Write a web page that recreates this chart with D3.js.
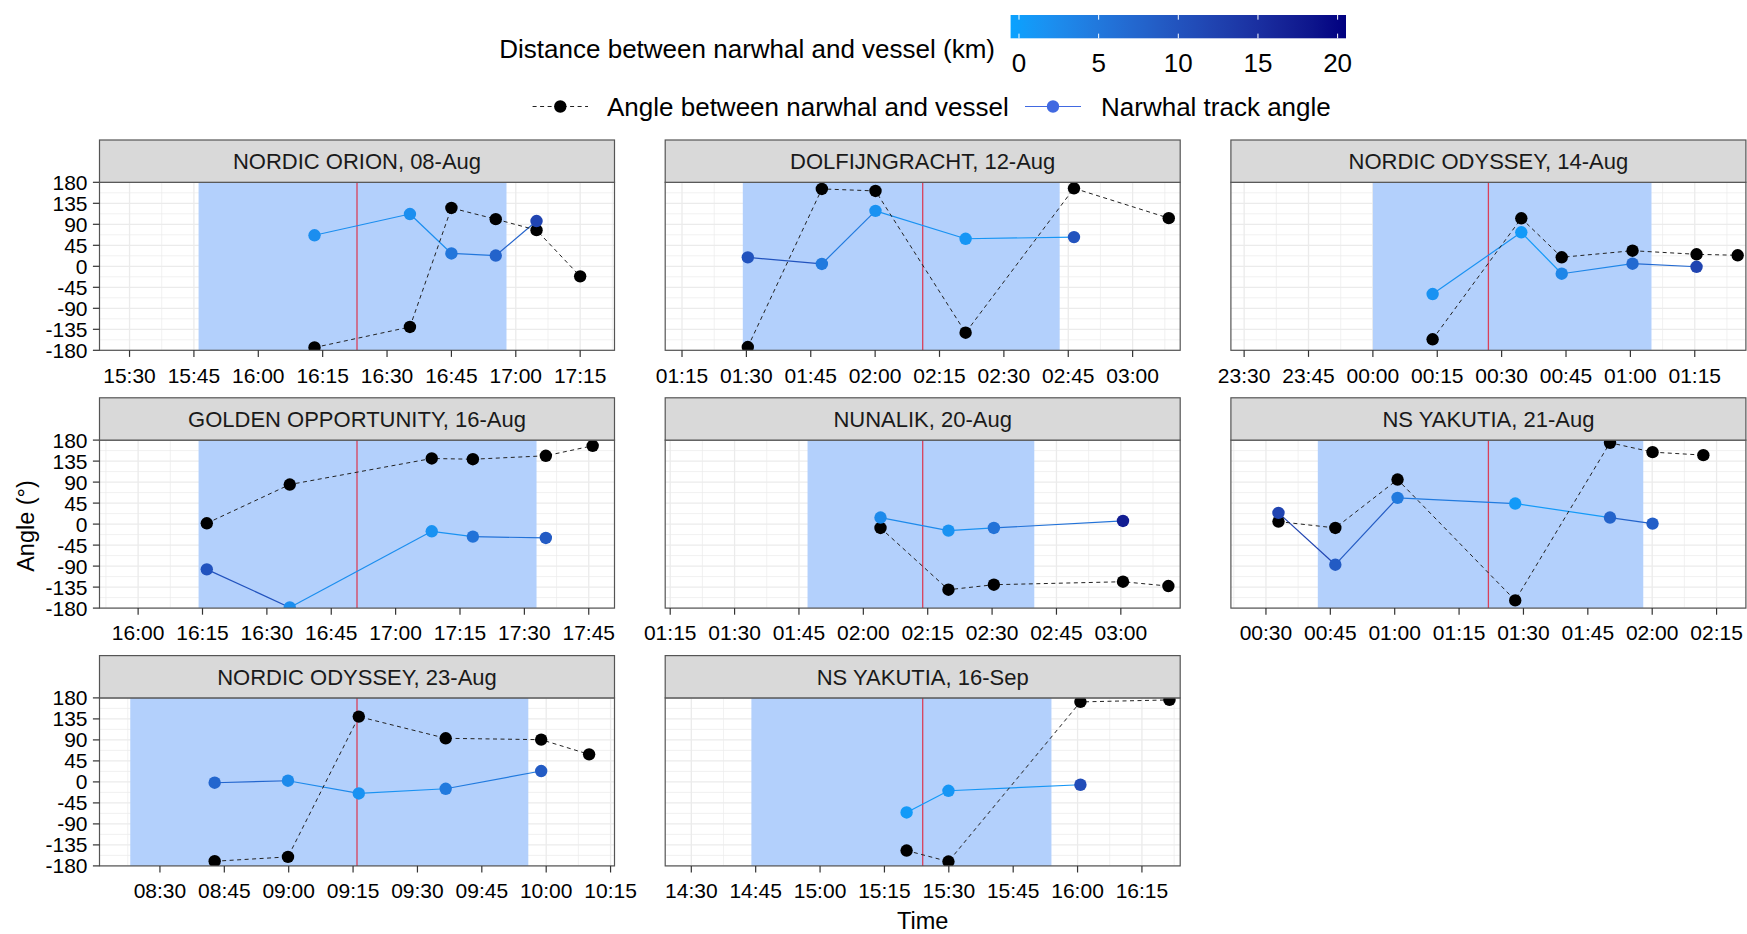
<!DOCTYPE html>
<html>
<head>
<meta charset="utf-8">
<script src="https://cdn.jsdelivr.net/npm/d3@7"></script>
<style>
  body { margin: 0; background: #fff; }
  svg { display: block; }
  text { font-family: "Liberation Sans", Arial, Helvetica, sans-serif; }
</style>
</head>
<body>
<svg id="chart" width="1747" height="934"></svg>
<script>
// ---- data ---------------------------------------------------------------
const panelTitles = [
  "NORDIC ORION, 08-Aug", "DOLFIJNGRACHT, 12-Aug", "NORDIC ODYSSEY, 14-Aug",
  "GOLDEN OPPORTUNITY, 16-Aug", "NUNALIK, 20-Aug", "NS YAKUTIA, 21-Aug",
  "NORDIC ODYSSEY, 23-Aug", "NS YAKUTIA, 16-Sep"
];
const panelDates = [
  "2019-08-08", "2019-08-12", "2019-08-14", "2019-08-16",
  "2019-08-20", "2019-08-21", "2019-08-23", "2019-09-16"
];
// time the vessel passed closest (red line)
const passTime = ["16:23:00", "02:11:05", "00:26:55", "16:51:00", "02:13:50", "01:21:50", "09:15:55", "15:23:55"];
// window during which the vessel was within range (shaded band)
const bandStart = ["15:46:05", "01:29:10", "00:00:00", "16:14:05", "01:47:00", "00:42:05", "08:23:05", "14:44:00"];
const bandEnd   = ["16:57:50", "02:43:00", "01:04:55", "17:32:50", "02:39:50", "01:57:55", "09:55:50", "15:53:55"];

// position fixes per panel
const fixTimes = [
  ["16:13:06", "16:35:20", "16:45:00", "16:55:20", "17:04:50", "17:15:00"],
  ["01:30:20", "01:47:35", "02:00:05", "02:21:05", "02:46:20", "03:08:25"],
  ["00:13:55", "00:34:35", "00:44:00", "01:00:30", "01:15:25", "01:25:00"],
  ["16:16:00", "16:35:20", "17:08:25", "17:18:00", "17:35:00", "17:45:55"],
  ["02:04:00", "02:19:50", "02:30:25", "03:00:30", "03:11:05"],
  ["00:32:55", "00:46:10", "01:00:40", "01:28:05", "01:50:10", "02:00:05", "02:11:55"],
  ["08:42:45", "08:59:50", "09:16:20", "09:36:35", "09:58:50", "10:10:00"],
  ["15:20:10", "15:29:55", "16:00:40", "16:21:25"]
];
// angle between narwhal and vessel (degrees)
const vesselAngle = [
  [-174, -130, 125, 101, 77.5, -21.5],
  [-173, 165.8, 161.5, -142.3, 167.2, 103.2],
  [-156.4, 102.9, 19.3, 33.4, 25.7, 23.6],
  [1.8, 84.8, 140.6, 139, 146.4, 167.8],
  [-8.2, -140.6, -129.9, -123.5, -132.8],
  [5.4, -8.2, 95.5, -163.5, 174.3, 154.2, 147.8],
  [-170, -160.7, 139.9, 93.4, 90.5, 59],
  [-147.1, -170.7, 171.4, 175.7]
];
// narwhal track angle (degrees)
const trackAngle = [
  [66.5, 112, 27.5, 23, 97, null],
  [19.2, 5, 118.8, 59, 62.6, null],
  [-59.4, 72.9, -15.9, 5.6, -1, null],
  [-97, -178.6, -15.4, -26.8, -29.7, null],
  [14, -14, -8.2, 6.8, null],
  [24, -87, 56.2, 44, 14, 1.1, null],
  [-1.8, 2.5, -24.7, -14.7, 23.3, null],
  [-65.5, -19, -6.1, null]
];
// distance between narwhal and vessel (km)
const distanceKm = [
  [2.5, 2.5, 5.5, 8, 12, null],
  [10, 5, 2, 1.5, 10, null],
  [2, 1, 3.5, 7, 12, null],
  [10, 2.5, 2, 6, 9, null],
  [3, 2, 6, 17, null],
  [12, 9, 5, 1, 8, 8.5, null],
  [7.5, 3, 2, 5, 9, null],
  [1, 1.5, 11, null]
];
const angleTicks = [-180, -135, -90, -45, 0, 45, 90, 135, 180];
const distanceTicks = [0, 5, 10, 15, 20];
const distanceLimits = [0, 20];

// ---- layout -------------------------------------------------------------
const svg = d3.select("#chart");
const parse = d3.utcParse("%Y-%m-%d %H:%M:%S");
const fmt = d3.utcFormat("%H:%M");
const colLeft = [99.5, 665.2, 1230.9];
const panelW = 515;
const rowTop = [140, 397.8, 655.6];
const stripH = 42.3;
const plotH = 168;
const ptR = 6.2;
const axisFont = 21, stripFont = 22, legendFont = 26, titleFont = 23.5;

const colour = d3.scaleLinear().domain(distanceLimits)
  .range(["#0aa2ff", "#000080"]).interpolate(d3.interpolateLab);

const y = d3.scaleLinear().domain([-180, 180]).range([plotH, 0]);
const yMinor = d3.range(-157.5, 180, 45);

const defs = svg.append("defs");
defs.append("clipPath").attr("id", "panelClip")
  .append("rect").attr("width", panelW).attr("height", plotH);

panelTitles.forEach((title, i) => {
  const col = i % 3, row = Math.floor(i / 3);
  const day = panelDates[i];
  const toDate = s => parse(day + " " + s);
  const tPass = toDate(passTime[i]);
  const x = d3.scaleUtc()
    .domain([d3.utcMinute.offset(tPass, -60), d3.utcMinute.offset(tPass, 60)])
    .range([0, panelW]);

  const g = svg.append("g")
    .attr("transform", `translate(${colLeft[col]},${rowTop[row] + stripH})`);

  // strip
  svg.append("rect")
    .attr("x", colLeft[col]).attr("y", rowTop[row])
    .attr("width", panelW).attr("height", stripH)
    .attr("fill", "#d9d9d9").attr("stroke", "#555").attr("stroke-width", 1.2);
  svg.append("text")
    .attr("x", colLeft[col] + panelW / 2).attr("y", rowTop[row] + stripH / 2 + 0.36 * stripFont)
    .attr("text-anchor", "middle").attr("font-size", stripFont).attr("fill", "#1a1a1a")
    .text(title);

  // grid
  const majors = x.ticks(d3.utcMinute.every(15));
  const [d0, d1] = x.domain();
  const minors = [];
  majors.forEach(t => {
    [-7.5, 7.5].forEach(m => {
      const v = new Date(t.getTime() + m * 60000);
      if (v > d0 && v < d1 && !minors.some(o => +o === +v)) minors.push(v);
    });
  });
  const grid = g.append("g");
  grid.selectAll(".ymin").data(yMinor).join("line")
    .attr("x1", 0).attr("x2", panelW).attr("y1", d => y(d)).attr("y2", d => y(d))
    .attr("stroke", "#ebebeb").attr("stroke-width", 0.7);
  grid.selectAll(".xmin").data(minors).join("line")
    .attr("x1", d => x(d)).attr("x2", d => x(d)).attr("y1", 0).attr("y2", plotH)
    .attr("stroke", "#ebebeb").attr("stroke-width", 0.7);
  grid.selectAll(".ymaj").data(angleTicks).join("line")
    .attr("x1", 0).attr("x2", panelW).attr("y1", d => y(d)).attr("y2", d => y(d))
    .attr("stroke", "#ebebeb").attr("stroke-width", 1.3);
  grid.selectAll(".xmaj").data(majors).join("line")
    .attr("x1", d => x(d)).attr("x2", d => x(d)).attr("y1", 0).attr("y2", plotH)
    .attr("stroke", "#ebebeb").attr("stroke-width", 1.3);

  const inner = g.append("g").attr("clip-path", "url(#panelClip)");

  // shaded window
  const b0 = toDate(bandStart[i]), b1 = toDate(bandEnd[i]);
  inner.append("rect")
    .attr("x", x(b0)).attr("width", x(b1) - x(b0))
    .attr("y", 0).attr("height", plotH)
    .attr("fill", "#b3d0fc");

  // closest passage
  inner.append("line")
    .attr("x1", x(tPass)).attr("x2", x(tPass)).attr("y1", 0).attr("y2", plotH)
    .attr("stroke", "#d9415a").attr("stroke-width", 1.3);

  const times = fixTimes[i].map(toDate);

  // narwhal track: each segment takes the colour of its starting fix
  const track = times.map((t, k) => ({ t, a: trackAngle[i][k], d: distanceKm[i][k] }))
    .filter(p => p.a !== null);
  for (let k = 0; k < track.length - 1; k++) {
    inner.append("line")
      .attr("x1", x(track[k].t)).attr("y1", y(track[k].a))
      .attr("x2", x(track[k + 1].t)).attr("y2", y(track[k + 1].a))
      .attr("stroke", colour(track[k].d)).attr("stroke-width", 1.2);
  }

  // narwhal–vessel angle
  const vessel = times.map((t, k) => ({ t, a: vesselAngle[i][k] }));
  inner.append("path")
    .attr("d", d3.line().x(p => x(p.t)).y(p => y(p.a))(vessel))
    .attr("fill", "none").attr("stroke", "#222").attr("stroke-width", 1)
    .attr("stroke-dasharray", "4,3.5");

  inner.selectAll(".vpt").data(vessel).join("circle")
    .attr("cx", p => x(p.t)).attr("cy", p => y(p.a)).attr("r", ptR)
    .attr("fill", "#000");
  inner.selectAll(".tpt").data(track).join("circle")
    .attr("cx", p => x(p.t)).attr("cy", p => y(p.a)).attr("r", ptR)
    .attr("fill", p => colour(p.d));

  // panel border
  g.append("rect").attr("width", panelW).attr("height", plotH)
    .attr("fill", "none").attr("stroke", "#555").attr("stroke-width", 1.2);

  // x axis
  const xa = g.append("g").attr("transform", `translate(0,${plotH})`);
  xa.selectAll("line").data(majors).join("line")
    .attr("x1", d => x(d)).attr("x2", d => x(d)).attr("y1", 0).attr("y2", 6.6)
    .attr("stroke", "#333").attr("stroke-width", 1.2);
  xa.selectAll("text").data(majors).join("text")
    .attr("x", d => x(d)).attr("y", 32.3)
    .attr("text-anchor", "middle").attr("font-size", axisFont).attr("fill", "#000")
    .text(d => fmt(d));

  // y axis on the left column only
  if (col === 0) {
    const ya = g.append("g");
    ya.selectAll("line").data(angleTicks).join("line")
      .attr("x1", -6.6).attr("x2", 0).attr("y1", d => y(d)).attr("y2", d => y(d))
      .attr("stroke", "#333").attr("stroke-width", 1.2);
    ya.selectAll("text").data(angleTicks).join("text")
      .attr("x", -12).attr("y", d => y(d) + 0.36 * axisFont)
      .attr("text-anchor", "end").attr("font-size", axisFont).attr("fill", "#000")
      .text(d => d);
  }
});

// axis titles
svg.append("text")
  .attr("x", (colLeft[0] + colLeft[2] + panelW) / 2).attr("y", 928.5)
  .attr("text-anchor", "middle").attr("font-size", titleFont).attr("fill", "#000")
  .text("Time");
svg.append("text")
  .attr("transform", `translate(${26 + 0.36 * titleFont},526) rotate(-90)`)
  .attr("text-anchor", "middle").attr("font-size", titleFont).attr("fill", "#000")
  .text("Angle (°)");

// ---- legends ------------------------------------------------------------
const barX = 1010.6, barY = 15, barW = 335.4, barH = 23.3;
const grad = defs.append("linearGradient").attr("id", "distGrad");
d3.range(0, 1.0001, 0.05).forEach(f => {
  grad.append("stop").attr("offset", f)
    .attr("stop-color", colour(distanceLimits[0] + f * (distanceLimits[1] - distanceLimits[0])));
});
const barScale = d3.scaleLinear().domain(distanceLimits)
  .range([barX + 0.025 * barW, barX + 0.975 * barW]);
svg.append("text")
  .attr("x", 995).attr("y", 57.5).attr("text-anchor", "end")
  .attr("font-size", legendFont).attr("fill", "#000")
  .text("Distance between narwhal and vessel (km)");
svg.append("rect").attr("x", barX).attr("y", barY).attr("width", barW).attr("height", barH)
  .attr("fill", "url(#distGrad)");
distanceTicks.forEach(v => {
  const bx = barScale(v);
  svg.append("line").attr("x1", bx).attr("x2", bx).attr("y1", barY).attr("y2", barY + barH / 5)
    .attr("stroke", "#fff").attr("stroke-width", 1);
  svg.append("line").attr("x1", bx).attr("x2", bx).attr("y1", barY + barH).attr("y2", barY + barH * 4 / 5)
    .attr("stroke", "#fff").attr("stroke-width", 1);
  svg.append("text").attr("x", bx).attr("y", 71.7).attr("text-anchor", "middle")
    .attr("font-size", legendFont).attr("fill", "#000").text(v);
});

const legY = 106.5;
svg.append("line").attr("x1", 532.6).attr("x2", 588).attr("y1", legY).attr("y2", legY)
  .attr("stroke", "#222").attr("stroke-width", 1).attr("stroke-dasharray", "4,3.5");
svg.append("circle").attr("cx", 560.3).attr("cy", legY).attr("r", ptR).attr("fill", "#000");
svg.append("text").attr("x", 607).attr("y", legY + 0.36 * legendFont)
  .attr("font-size", legendFont).attr("fill", "#000").text("Angle between narwhal and vessel");
svg.append("line").attr("x1", 1025).attr("x2", 1081).attr("y1", legY).attr("y2", legY)
  .attr("stroke", "#4169e1").attr("stroke-width", 1.2);
svg.append("circle").attr("cx", 1053).attr("cy", legY).attr("r", ptR).attr("fill", "#4169e1");
svg.append("text").attr("x", 1101).attr("y", legY + 0.36 * legendFont)
  .attr("font-size", legendFont).attr("fill", "#000").text("Narwhal track angle");
</script>
</body>
</html>
